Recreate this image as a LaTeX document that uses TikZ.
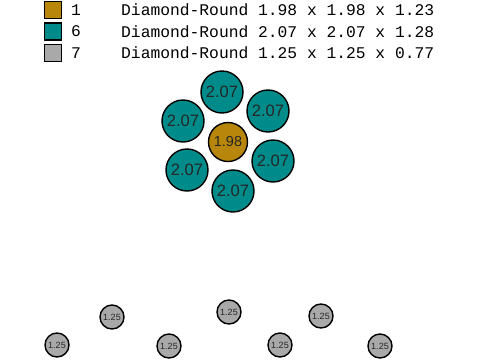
\documentclass[tikz,border=0pt]{standalone}
\usepackage{fontspec}
\setmainfont{Liberation Sans}
\setmonofont{Liberation Mono}
\definecolor{stonegold}{HTML}{B8860B}
\definecolor{stoneteal}{HTML}{008B8B}
\definecolor{stonegray}{HTML}{A9A9A9}

\begin{document}
\begin{tikzpicture}[x=1pt, y=-1pt,
	stone/.style={circle, draw=black, line width=1.4pt, inner sep=0pt, text=black!85},
	keybox/.style={draw=black, line width=1.6pt, minimum size=17pt, inner sep=0pt},
	keytext/.style={anchor=west, inner sep=0pt, font=\fontsize{16.3}{17}\selectfont\ttfamily}]
	\useasboundingbox (0,0) rectangle (480,360);
	% legend
	\foreach \c/\n/\t [count=\i] in {stonegold/1/{1.98 x 1.98 x 1.23},
		stoneteal/6/{2.07 x 2.07 x 1.28}, stonegray/7/{1.25 x 1.25 x 0.77}}{
		\node[keybox, fill=\c] (key\i) at (53, {10+21.5*(\i-1)}) {};
		\node[keytext] (count\i) at (71, {10+21.5*(\i-1)}) {\n};
		\node[keytext] (desc\i) at (121, {10+21.5*(\i-1)}) {Diamond-Round \t};
	}
	% center stone
	\node[stone, fill=stonegold, minimum size=39pt, font=\fontsize{14.5}{14.5}\selectfont] (center) at (228,142) {1.98};
	% halo
	\foreach \x/\y [count=\i] in {222/92, 268/111, 183/121, 187/170, 273/161, 233/191}{
		\node[stone, fill=stoneteal, minimum size=42pt, font=\fontsize{16.5}{16.5}\selectfont] (halo\i) at (\x,\y) {2.07};
	}
	% accents
	\foreach \x/\y [count=\i] in {57/345, 112/317, 169/346, 229/312, 280/345, 321/316, 380/346}{
		\node[stone, fill=stonegray, minimum size=24pt, font=\fontsize{9}{9}\selectfont] (accent\i) at (\x,\y) {1.25};
	}
\end{tikzpicture}
\end{document}
